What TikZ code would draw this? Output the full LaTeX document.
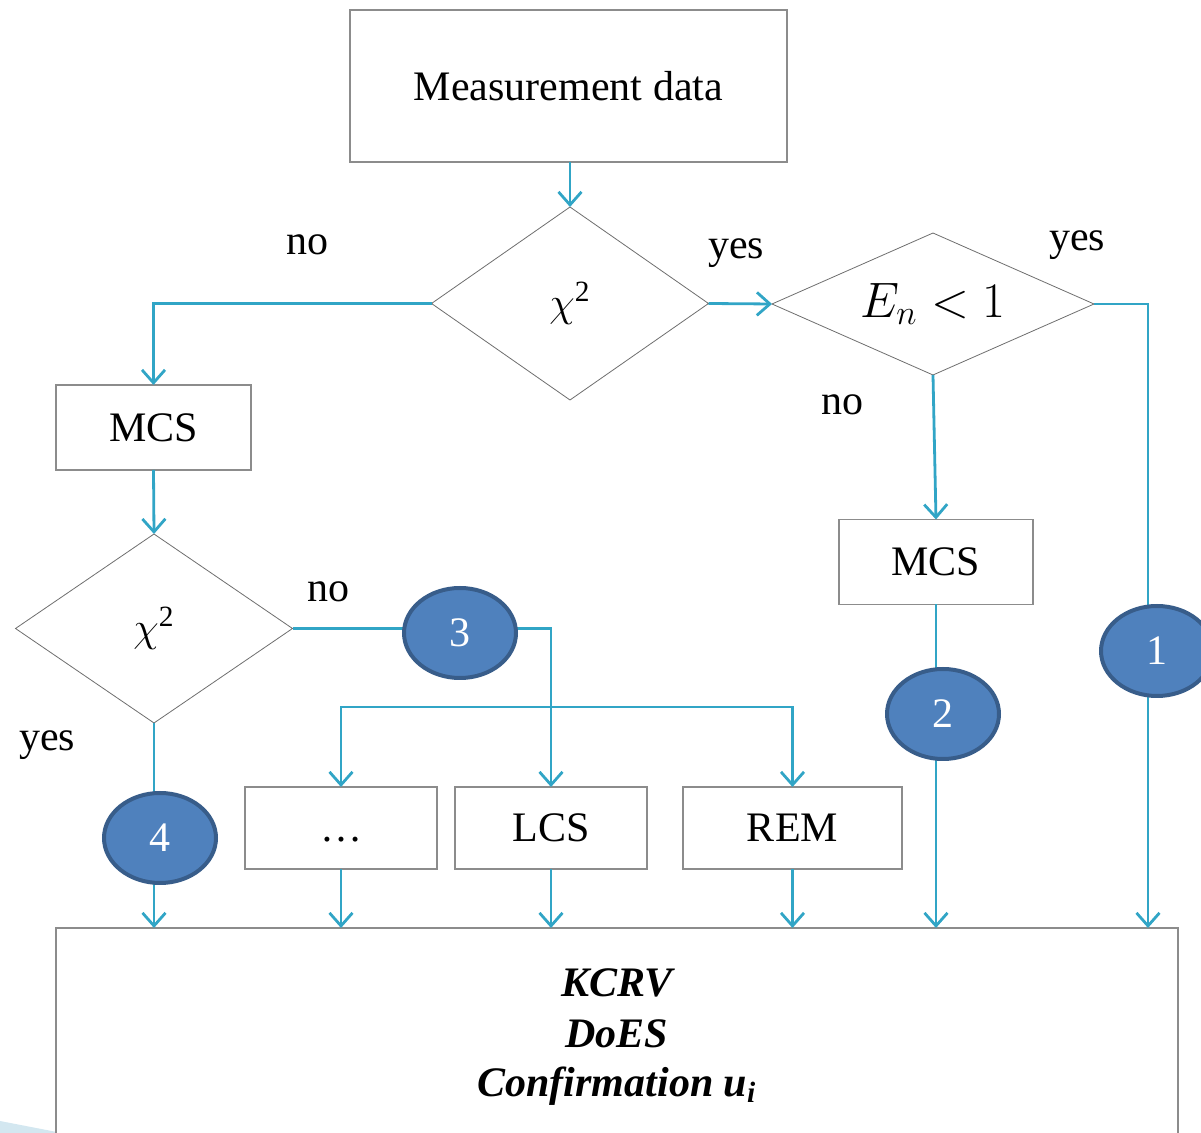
\documentclass[tikz,border=0pt]{standalone}
\usepackage{fontspec}
\setmainfont{Liberation Serif}
\usetikzlibrary{arrows.meta,shapes.geometric}
\definecolor{conn}{HTML}{31A5C6}
\definecolor{cfill}{HTML}{4F81BD}
\definecolor{cedge}{HTML}{385D8A}
\definecolor{boxedge}{HTML}{8C8C8C}
\definecolor{diaedge}{HTML}{6E6E6E}
\definecolor{wedge}{HTML}{D3E7F0}
\newcommand{\bigtxt}{\fontsize{21}{25}\selectfont}
\newcommand{\chisq}{$\chi$\textsuperscript{2}}
\begin{document}
\begin{tikzpicture}[x=0.5pt,y=-0.5pt,
  every node/.style={font=\bigtxt},
  box/.style={draw=boxedge, line width=0.55pt, fill=white, inner sep=0pt, outer sep=0pt},
  dia/.style={diamond, draw=diaedge, line width=0.4pt, fill=white, inner sep=0pt, outer sep=0pt},
  circ/.style={ellipse, fill=cfill, draw=cedge, line width=2pt, minimum width=56pt, minimum height=45pt, inner sep=0pt, text=white},
  arr/.style={draw=conn, line width=1.4pt, -{Straight Barb[length=6.5pt,width=11.5pt]}},
  arrboth/.style={draw=conn, line width=1.4pt, {Straight Barb[length=6.5pt,width=11.5pt]}-{Straight Barb[length=6.5pt,width=11.5pt]}},
  lbl/.style={inner sep=0pt},
  restxt/.style={inner sep=0pt, font=\bigtxt\bfseries\itshape}]
\path[use as bounding box] (0,0) rectangle (1201,1133);
\clip (0,0) rectangle (1201,1133);
\fill[wedge] (0,1121) -- (62,1133) -- (0,1133) -- cycle;

% boxes and decisions
\node[box, minimum width=218.5pt, minimum height=76pt] (md) at (568.5,86) {Measurement data};
\node[dia, aspect=1.43, minimum width=138.5pt, minimum height=96.5pt] (d1) at (570,303.5) {\chisq};
\node[dia, aspect=2.27, minimum width=161pt, minimum height=71pt] (d2) at (933,304) {\fontsize{24}{28}\selectfont$E_n<1$};
\node[box, minimum width=97.5pt, minimum height=42.5pt] (m1) at (153.5,427.5) {MCS};
\node[box, minimum width=97pt, minimum height=42.5pt] (m2) at (936,562) {MCS};
\node[dia, aspect=1.47, minimum width=138.5pt, minimum height=94.5pt] (d3) at (154,628.5) {\chisq};
\node[box, minimum width=96pt, minimum height=41pt] (dots) at (341,828) {\vphantom{LCS}…};
\node[box, minimum width=96pt, minimum height=41pt] (lcs) at (551,828) {LCS};
\node[box, minimum width=109.5pt, minimum height=41pt] (rem) at (792.5,828) {REM};
\node[box, minimum width=561pt, minimum height=130pt] (bx) at (617,1058) {};
\node[restxt] (r1) at (617,983) {KCRV};
\node[restxt] (r2) at (617,1034) {DoES};
\node[restxt] (r3) at (617,1086) {Confirmation u\textsubscript{i}};

% labels
\node[lbl] (no1) at (307,245) {no};
\node[lbl] (yes1) at (736,253) {yes};
\node[lbl] (yes2) at (1077,245) {yes};
\node[lbl] (no2) at (842,405) {no};
\node[lbl] (no3) at (328,592) {no};
\node[lbl] (yes3) at (47,745) {yes};

% connectors
\coordinate (e1) at (1148,928);
\coordinate (h) at (0,707);
\draw[arr] (d1.north |- md.south) -- (d1.north);
\draw[arr] (d1.east) -- (d2.west);
\draw[arr] (d1.west) -| (m1.north);
\draw[arr] (m1.south) -- (d3.north);
\draw[arr] (d2.south) -- (m2.north);
\draw[arr] (d2.east) -| (e1);
\draw[arr] (m2.south) -- (m2.south |- bx.north);
\draw[arr] (d3.east) -| (lcs.north);
\draw[arrboth] (dots.north) |- (rem.north |- h) -- (rem.north);
\draw[arr] (d3.south) -- (d3.south |- bx.north);
\draw[arr] (dots.south) -- (dots.south |- bx.north);
\draw[arr] (lcs.south) -- (lcs.south |- bx.north);
\draw[arr] (rem.south) -- (rem.south |- bx.north);

% numbered markers
\node[circ] (c1) at (1157,651) {1};
\node[circ] (c2) at (943,714) {2};
\node[circ] (c3) at (460,633) {3};
\node[circ] (c4) at (160,838) {4};
\end{tikzpicture}
\end{document}
